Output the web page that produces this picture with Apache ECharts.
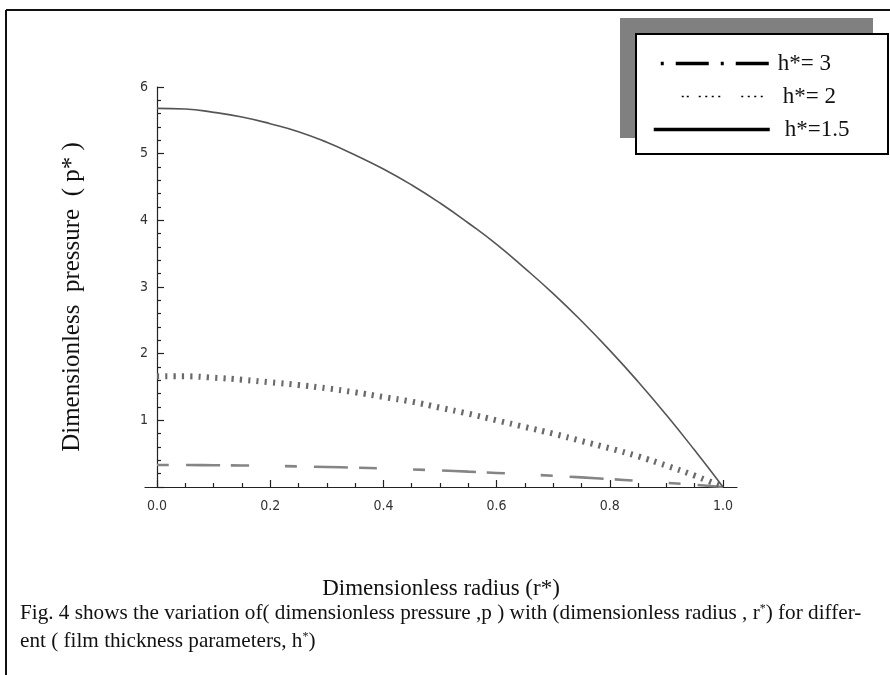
<!DOCTYPE html>
<html>
<head>
<meta charset="utf-8">
<script src="https://cdn.jsdelivr.net/npm/echarts@6/dist/echarts.min.js"></script>
<style>
  html, body { margin: 0; padding: 0; background: #fff; }
  #chart { width: 890px; height: 675px; }
</style>
</head>
<body>
<div id="chart"></div>
<script>
// Dimensionless radius r* sampled every 0.05
const radius = [0, 0.05, 0.1, 0.15, 0.2, 0.25, 0.3, 0.35, 0.4, 0.45, 0.5,
                0.55, 0.6, 0.65, 0.7, 0.75, 0.8, 0.85, 0.9, 0.95, 1.0];

// Dimensionless pressure p* for each film thickness parameter h*
const pressureH15 = [5.68, 5.67, 5.62, 5.55, 5.45, 5.33, 5.17, 4.98, 4.77, 4.53, 4.26,
                     3.96, 3.64, 3.28, 2.90, 2.49, 2.05, 1.58, 1.08, 0.55, 0];
const pressureH2  = [1.66, 1.66, 1.64, 1.61, 1.57, 1.53, 1.48, 1.42, 1.35, 1.28, 1.19,
                     1.10, 1.00, 0.90, 0.80, 0.69, 0.58, 0.46, 0.32, 0.17, 0];
const pressureH3  = [0.33, 0.33, 0.327, 0.323, 0.317, 0.309, 0.300, 0.290, 0.277, 0.263, 0.248,
                     0.230, 0.211, 0.191, 0.168, 0.144, 0.119, 0.092, 0.063, 0.032, 0];

const seriesNames = ['h*= 3', 'h*= 2', 'h*=1.5'];

// Tick positions on the radius axis
const xMajorTicks = [0, 0.2, 0.4, 0.6, 0.8, 1.0];
const xMinorTicks = [0.05, 0.1, 0.15, 0.25, 0.3, 0.35, 0.45, 0.5, 0.55,
                     0.65, 0.7, 0.75, 0.85, 0.9, 0.95];

const captionLine1 = 'Fig. 4 shows the variation of( dimensionless pressure ,p ) with (dimensionless radius , r{sup|*}) for differ-';
const captionLine2 = 'ent ( film thickness parameters, h{sup|*})';

const pairs = (ys) => radius.map((r, i) => [r, ys[i]]);

const serif = '"Liberation Serif", "Times New Roman", serif';
const tickFont = '"DejaVu Sans Condensed", "DejaVu Sans", sans-serif';
const supStyle = { fontFamily: serif, fontSize: 12, verticalAlign: 'top', padding: [0, 0, 9, 0] };

const chart = echarts.init(document.getElementById('chart'), null, { renderer: 'canvas' });

chart.setOption({
  backgroundColor: '#fff',
  animation: false,
  grid: { left: 145, right: 153, top: 87, bottom: 188, containLabel: false },
  xAxis: [
    {
      type: 'value',
      min: -0.0212,
      max: 1.0247,
      position: 'bottom',
      name: 'Dimensionless radius (r*)',
      nameLocation: 'middle',
      nameGap: 90,
      nameTextStyle: { fontFamily: serif, fontSize: 23, color: '#111' },
      axisLine: { show: true, onZero: false, lineStyle: { color: '#222', width: 1.2 } },
      axisTick: { show: true, inside: true, length: 7, customValues: xMajorTicks,
                  lineStyle: { color: '#222', width: 1.2 } },
      axisLabel: { show: true, customValues: xMajorTicks, margin: 12,
                   formatter: (v) => Number(v).toFixed(1),
                   fontFamily: tickFont, fontSize: 14, color: '#333' },
      splitLine: { show: false }
    },
    {
      type: 'value',
      min: -0.0212,
      max: 1.0247,
      position: 'bottom',
      axisLine: { show: false, onZero: false },
      axisTick: { show: true, inside: true, length: 4, customValues: xMinorTicks,
                  lineStyle: { color: '#222', width: 1.2 } },
      axisLabel: { show: false },
      splitLine: { show: false }
    }
  ],
  yAxis: {
    type: 'value',
    min: 0,
    max: 6,
    interval: 1,
    offset: -12,
    name: 'Dimensionless  pressure  ( p* )',
    nameLocation: 'middle',
    nameRotate: 90,
    nameGap: 72,
    nameTextStyle: { fontFamily: serif, fontSize: 25, color: '#111', padding: [0, 20, 0, 0] },
    axisLine: { show: true, onZero: false, lineStyle: { color: '#222', width: 1.2 } },
    axisTick: { show: true, inside: true, length: 7, lineStyle: { color: '#222', width: 1.2 } },
    minorTick: { show: true, splitNumber: 5, length: 4, lineStyle: { color: '#222', width: 1.2 } },
    axisLabel: { showMinLabel: false, margin: 9, fontFamily: tickFont, fontSize: 14, color: '#333' },
    splitLine: { show: false }
  },
  legend: {
    orient: 'vertical',
    left: 647,
    top: 47,
    z: 10,
    itemWidth: 116,
    itemHeight: 14,
    itemGap: 10,
    selectedMode: false,
    itemStyle: { opacity: 0 },
    textStyle: { fontFamily: serif, fontSize: 23, color: '#111', lineHeight: 23 },
    data: [
      { name: seriesNames[0],
        itemStyle: { opacity: 0 },
        lineStyle: { color: '#000', width: 3.5, type: [3, 12, 33, 12], dashOffset: 53, cap: 'butt' },
        textStyle: { padding: [0, 0, 0, 3] } },
      { name: seriesNames[1],
        itemStyle: { opacity: 0 },
        lineStyle: { color: '#000', width: 1.6,
                     type: [2, 3, 2, 10, 2, 4.5, 2, 4.5, 2, 4.5, 2, 21, 2, 4.5, 2, 4.5, 2, 4.5, 2, 100],
                     dashOffset: 153, cap: 'butt' },
        textStyle: { padding: [0, 0, 0, 8] } },
      { name: seriesNames[2],
        itemStyle: { opacity: 0 },
        lineStyle: { color: '#000', width: 3.5, type: 'solid' },
        textStyle: { padding: [0, 0, 0, 10] } }
    ]
  },
  graphic: [
    // figure frame (top and left rules)
    { type: 'line', z: 0, shape: { x1: 6, y1: 10, x2: 890, y2: 10 },
      style: { stroke: '#111', lineWidth: 2 } },
    { type: 'line', z: 0, shape: { x1: 6, y1: 10, x2: 6, y2: 675 },
      style: { stroke: '#111', lineWidth: 2 } },
    // legend panel with offset grey shadow
    { type: 'rect', z: 1, shape: { x: 620, y: 18, width: 253, height: 120 },
      style: { fill: '#808080' } },
    { type: 'rect', z: 2, shape: { x: 636, y: 34, width: 252, height: 120 },
      style: { fill: '#fff', stroke: '#000', lineWidth: 2 } },
    // caption
    { type: 'text', z: 5, left: 20, top: 603,
      style: { text: captionLine1, fontFamily: serif, fontSize: 21.2, fill: '#111', rich: { sup: supStyle } } },
    { type: 'text', z: 5, left: 20, top: 631,
      style: { text: captionLine2, fontFamily: serif, fontSize: 21.2, fill: '#111', rich: { sup: supStyle } } }
  ],
  series: [
    {
      name: seriesNames[0],
      type: 'line',
      smooth: true,
      symbol: 'none',
      data: pairs(pressureH3),
      lineStyle: { color: '#858585', width: 2.6, type: [12, 17, 34, 11, 18, 36], cap: 'butt' },
      z: 3
    },
    {
      name: seriesNames[1],
      type: 'line',
      smooth: true,
      symbol: 'none',
      data: pairs(pressureH2),
      lineStyle: { color: '#6a6a6a', width: 6, type: [2.2, 6.1], cap: 'butt' },
      z: 3
    },
    {
      name: seriesNames[2],
      type: 'line',
      smooth: true,
      symbol: 'none',
      data: pairs(pressureH15),
      lineStyle: { color: '#555', width: 1.6 },
      z: 3
    }
  ]
});
</script>
</body>
</html>
